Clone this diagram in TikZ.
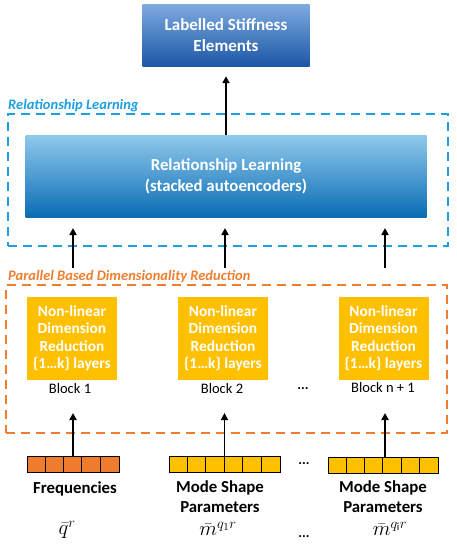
\documentclass[tikz,border=0pt]{standalone}
\usepackage{fontspec}
\setmainfont{Carlito}
\usetikzlibrary{arrows.meta,calc}
\definecolor{bluelab}{HTML}{1E9FE0}
\definecolor{orangelab}{HTML}{F07E2E}
\definecolor{gold}{HTML}{FFC000}
\definecolor{freq}{HTML}{EE7B2E}
\definecolor{HTMLtopA}{HTML}{7EAAE0}
\definecolor{HTMLtopB}{HTML}{1C57A5}
\definecolor{HTMLrelA}{HTML}{90C9EC}
\definecolor{HTMLrelB}{HTML}{0A6CB4}
\tikzset{
  arr/.style={line width=1.8pt,-{Triangle[length=7pt,width=7pt]}},
  topbox/.style={top color=HTMLtopA, bottom color=HTMLtopB, text=white, align=center,
    font=\bfseries\fontsize{17}{21}\selectfont, inner sep=0pt},
  relbox/.style={top color=HTMLrelA, bottom color=HTMLrelB, text=white, align=center,
    font=\bfseries\fontsize{16.8}{21}\selectfont, inner sep=0pt},
  ybox/.style={fill=gold, minimum width=90pt, minimum height=83pt, text=white,
    font=\bfseries\fontsize{15.4}{17.5}\selectfont, align=center, inner sep=0pt},
  grp/.style={dash pattern=on 9pt off 6pt, line width=2.2pt, inner sep=0pt},
  grplabel/.style={anchor=base west, font=\itshape\bfseries\fontsize{14.5}{16}\selectfont, inner sep=0pt},
  blocklabel/.style={font=\fontsize{14.5}{16}\selectfont, inner sep=0pt},
  dots/.style={font=\bfseries\fontsize{14}{14}\selectfont, inner sep=0pt},
  inlabel/.style={font=\bfseries\fontsize{16.8}{20}\selectfont, align=center, inner sep=0pt},
  mathlabel/.style={font=\fontsize{21.5}{24}\selectfont, inner sep=0pt},
  bar/.style={draw=black, line width=0.8pt, minimum height=16pt, inner sep=0pt},
}
\begin{document}
\begin{tikzpicture}[x=1pt,y=-1pt]
\useasboundingbox (0,0) rectangle (457,550);

% top output
\node[topbox, minimum width=167pt, minimum height=62pt] (top) at (226,35) {Labelled Stiffness\\Elements};

% relationship learning group
\node[grp, draw=bluelab, minimum width=440pt, minimum height=132pt] (rlgrp) at (228,180) {};
\node[grplabel, text=bluelab] (rllab) at (8,109) {Relationship Learning};
\node[relbox, minimum width=401pt, minimum height=82pt] (rel) at (226,176) {Relationship Learning\\(stacked autoencoders)};

\draw[arr, shorten >=10pt] (rel.north) -- (top.south);

% dimensionality reduction group
\node[grp, draw=orangelab, minimum width=441pt, minimum height=148pt] (prgrp) at (226.5,359) {};
\node[grplabel, text=orangelab] (prlab) at (8,280) {Parallel Based Dimensionality Reduction};

\node[ybox] (b1) at (72,338.5) {Non-linear\\Dimension\\Reduction\\\{1…k\} layers};
\node[ybox] (b2) at (223,338.5) {Non-linear\\Dimension\\Reduction\\\{1…k\} layers};
\node[ybox] (b3) at (383.5,338.5) {Non-linear\\Dimension\\Reduction\\\{1…k\} layers};
\node[blocklabel] (bl1) at (70,389) {Block 1};
\node[blocklabel] (bl2) at (222,389) {Block 2};
\node[blocklabel] (bl3) at (383,388) {Block n + 1};
\node[dots] (d1) at (303,389) {...};

% arrows to relationship learning
\coordinate (s1) at (73,268); \coordinate (e1) at (73,228);
\coordinate (s2) at (225,268); \coordinate (e2) at (225,228);
\coordinate (s3) at (385,268); \coordinate (e3) at (385,228);
\draw[arr] (s1) -- (e1);
\draw[arr] (s2) -- (e2);
\draw[arr] (s3) -- (e3);

% input bars
\node[bar, fill=freq, minimum width=92pt] (bar1) at (73,464) {};
\foreach \i in {1,...,4} \draw[line width=0.8pt] ($(bar1.north west)+(\i*18.4,0)$) -- ++(0,16);
\node[bar, fill=gold, minimum width=111pt] (bar2) at (224.5,464) {};
\foreach \i in {1,...,5} \draw[line width=0.8pt] ($(bar2.north west)+(\i*18.5,0)$) -- ++(0,16);
\node[bar, fill=gold, minimum width=110pt] (bar3) at (383,465) {};
\foreach \i in {1,...,5} \draw[line width=0.8pt] ($(bar3.north west)+(\i*18.333,0)$) -- ++(0,16);
\node[dots] (d2) at (304,464) {...};

% arrows from bars
\coordinate (u1) at (73,413);
\coordinate (u2) at (224.5,413);
\coordinate (u3) at (385,413);
\draw[arr] (bar1.north) -- (u1);
\draw[arr] (bar2.north) -- (u2);
\draw[arr] ($(bar3.north)+(2,0)$) -- (u3);

% input labels
\node[inlabel] (l1) at (75,489) {Frequencies};
\node[inlabel] (l2) at (220,497) {Mode Shape\\Parameters};
\node[inlabel] (l3) at (383,497) {Mode Shape\\Parameters};
\node[mathlabel] (m1) at (67,530) {$\bar{q}^{r}$};
\node[mathlabel] (m2) at (218,529) {$\bar{m}^{q_1 r}$};
\node[mathlabel] (m3) at (390,529) {$\bar{m}^{q_{\mathrm{i}} r}$};
\node[dots] (d3) at (304,537) {...};
\end{tikzpicture}
\end{document}
